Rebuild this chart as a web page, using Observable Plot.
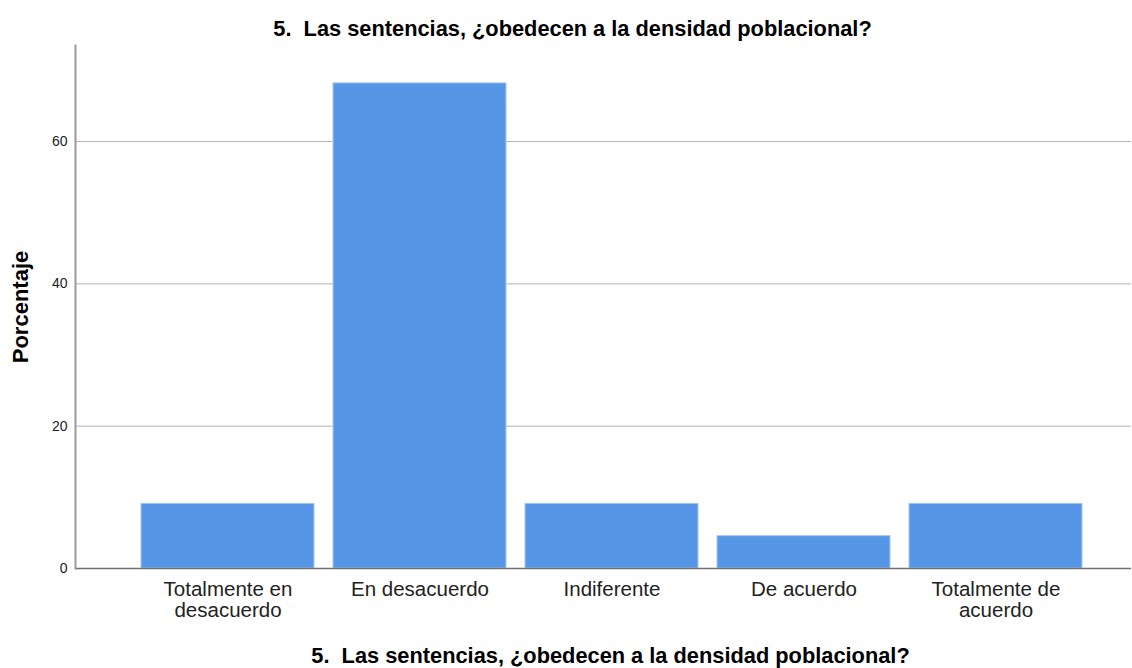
<!DOCTYPE html>
<html>
<head>
<meta charset="utf-8">
<script src="https://cdn.jsdelivr.net/npm/d3@7"></script>
<script src="https://cdn.jsdelivr.net/npm/@observablehq/plot@0.6"></script>
<style>
  html, body { margin: 0; padding: 0; background: #fff; }
  svg { display: block; }
  svg text { white-space: pre; }
</style>
</head>
<body>
<div id="chart"></div>
<script>
const categories = ["Totalmente en\ndesacuerdo", "En desacuerdo", "Indiferente", "De acuerdo", "Totalmente de\nacuerdo"];
const values = [9.09, 68.18, 9.09, 4.55, 9.09];
const yTicks = [0, 20, 40, 60];
const titleText = "5.  Las sentencias, ¿obedecen a la densidad poblacional?";
const yLabel = "Porcentaje";

const data = categories.map((c, i) => ({category: c, value: values[i]}));
const font = "'Liberation Sans', Arial, sans-serif";

const chart = Plot.plot({
  width: 1132,
  height: 668,
  marginTop: 45,
  marginBottom: 100,
  marginLeft: 75,
  marginRight: 1,
  style: {fontFamily: font, background: "#fff"},
  x: {domain: categories, paddingInner: 0.1, paddingOuter: 0.288, align: 0.577, label: null},
  y: {domain: [0, 73.5], label: null},
  marks: [
    Plot.gridY(yTicks.filter(d => d > 0), {stroke: "#b4b4b4", strokeOpacity: 1}),
    Plot.barY(data, {x: "category", y: "value", fill: "#5596e6", stroke: "#a9c9f2", strokeWidth: 1}),
    Plot.ruleY([0], {stroke: "#707070", strokeWidth: 1.5}),
    Plot.frame({anchor: "left", stroke: "#9a9a9a", strokeWidth: 2}),
    Plot.axisY({ticks: yTicks, tickSize: 0, tickPadding: 8, fontSize: 14, fill: "#222", label: null}),
    Plot.axisX({tickSize: 0, tickPadding: 12, fontSize: 20.5, lineHeight: 1.05, fill: "#222", label: null}),
    Plot.text([titleText], {frameAnchor: "top-left", textAnchor: "middle", dx: 497, dy: -25, fontSize: 21.8, fontWeight: "bold", fill: "#000"}),
    Plot.text([titleText], {frameAnchor: "bottom-left", textAnchor: "middle", dx: 535, dy: 94, fontSize: 21.8, fontWeight: "bold", fill: "#000"}),
    Plot.text([yLabel], {frameAnchor: "left", textAnchor: "middle", dx: -55, rotate: -90, fontSize: 22, fontWeight: "bold", fill: "#000"})
  ]
});
document.getElementById("chart").appendChild(chart);
</script>
</body>
</html>
